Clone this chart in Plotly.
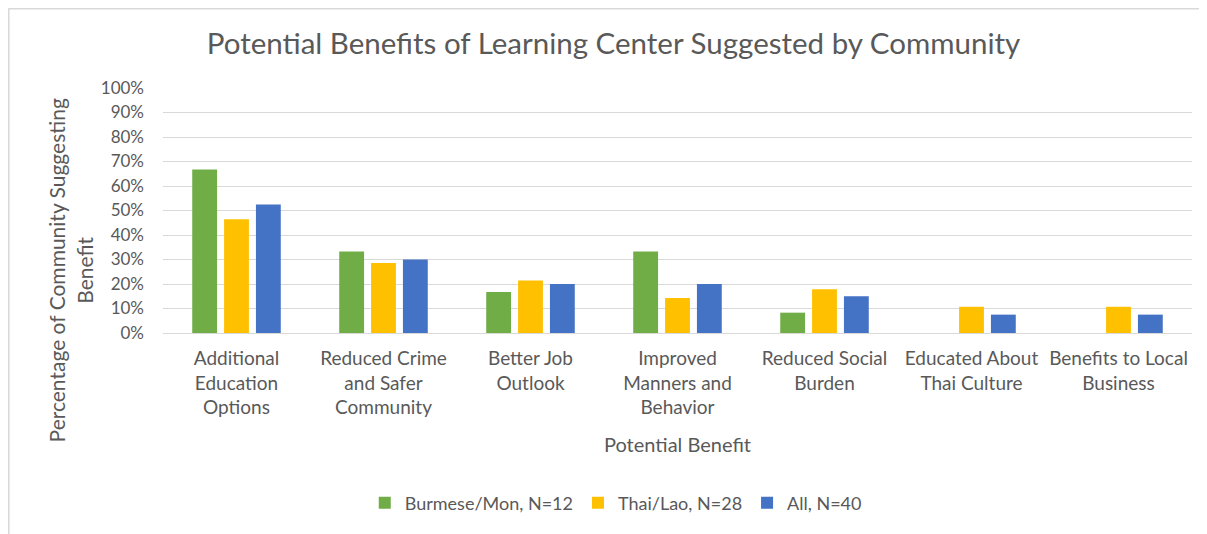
import plotly.graph_objects as go

categories = [
    "Additional<br>Education<br>Options",
    "Reduced Crime<br>and Safer<br>Community",
    "Better Job<br>Outlook",
    "Improved<br>Manners and<br>Behavior",
    "Reduced Social<br>Burden",
    "Educated About<br>Thai Culture",
    "Benefits to Local<br>Business",
]
burmese_mon = [0.667, 0.333, 0.167, 0.333, 0.083, 0, 0]
thai_lao = [0.464, 0.286, 0.214, 0.143, 0.179, 0.107, 0.107]
all_groups = [0.525, 0.30, 0.20, 0.20, 0.15, 0.075, 0.075]

series_names = ["Burmese/Mon, N=12", "Thai/Lao, N=28", "All, N=40"]
colors = ["#70ad47", "#ffc000", "#4472c4"]
y_ticks = [i / 10 for i in range(11)]

FONT = "Lato, Calibri, 'Open Sans', sans-serif"
GRAY = "#595959"

fig = go.Figure()
for name, vals, c in zip(series_names, [burmese_mon, thai_lao, all_groups], colors):
    fig.add_trace(go.Bar(x=categories, y=vals, name=name, marker=dict(color=c, line=dict(width=0))))

# page body has an 8px margin, so the figure is a bit smaller than the window
fig.update_layout(
    width=1199, height=526,
    margin=dict(l=155, r=15, t=80, b=201, autoexpand=False),
    paper_bgcolor="white", plot_bgcolor="white",
    barmode="group", bargap=0.35, bargroupgap=0.22,
    font=dict(family=FONT, color=GRAY, size=17),
    title=dict(text="Potential Benefits of Learning Center Suggested by Community",
               x=0.505, xanchor="center", y=0.9316, yanchor="middle",
               font=dict(size=29.5, color=GRAY, family=FONT)),
    legend=dict(orientation="h", x=0.44, xanchor="center", y=-0.694, yanchor="middle",
                font=dict(size=18, color=GRAY), itemwidth=30, traceorder="normal"),
    showlegend=True,
)
fig.update_yaxes(range=[0, 1], tickvals=y_ticks, tickformat=".0%",
                 showgrid=True, gridcolor="#d9d9d9", gridwidth=1,
                 zeroline=False, showline=False, ticks="", ticklen=0,
                 ticklabelstandoff=18,
                 tickfont=dict(size=17, color=GRAY), fixedrange=True)
fig.update_xaxes(showline=True, linecolor="#d9d9d9", linewidth=1, ticks="",
                 tickfont=dict(size=19, color=GRAY), tickangle=0, ticklabelstandoff=8,
                 title=dict(text="Potential Benefit", font=dict(size=20, color=GRAY), standoff=20))

fig.add_annotation(text="Percentage of Community Suggesting<br>Benefit",
                   xref="paper", yref="paper", x=-0.09, y=0.257, textangle=-90,
                   showarrow=False, font=dict(size=21, color=GRAY), xanchor="center", yanchor="middle")

# frame edge along the top and left of the chart
fig.add_shape(type="line", xref="paper", yref="paper", x0=-0.1501, x1=1.02, y0=1.3245, y1=1.3245,
              line=dict(color="#d9d9d9", width=2))
fig.add_shape(type="line", xref="paper", yref="paper", x0=-0.1501, x1=-0.1501, y0=-0.85, y1=1.3245,
              line=dict(color="#d9d9d9", width=2))

fig.write_html("out.html")
